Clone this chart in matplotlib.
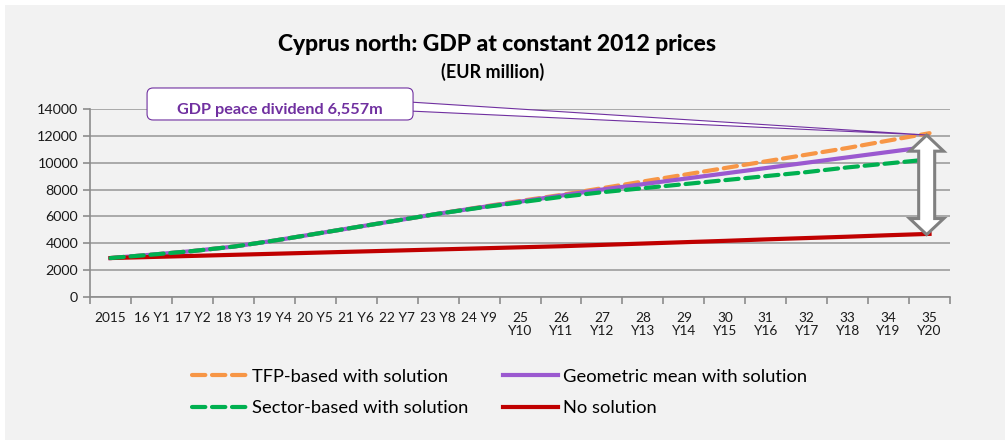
import matplotlib
matplotlib.use('Agg')
from matplotlib import pyplot as plt
from matplotlib.patches import FancyBboxPatch, Polygon, Rectangle
from matplotlib.transforms import IdentityTransform

plt.rcParams['font.family'] = ['Lato', 'DejaVu Sans']

# --- data (EUR million, constant 2012 prices) ---
years = ['2015', '16 Y1', '17 Y2', '18 Y3', '19 Y4', '20 Y5', '21 Y6', '22 Y7', '23 Y8', '24 Y9',
         '25\nY10', '26\nY11', '27\nY12', '28\nY13', '29\nY14', '30\nY15', '31\nY16', '32\nY17',
         '33\nY18', '34\nY19', '35\nY20']
tfp = [2900, 3150, 3420, 3750, 4200, 4700, 5200, 5700, 6200, 6680, 7150,
       7600, 8100, 8600, 9100, 9600, 10100, 10600, 11100, 11650, 12200]
geo = [2900, 3150, 3420, 3750, 4200, 4700, 5200, 5700, 6200, 6660, 7100,
       7550, 8000, 8400, 8800, 9200, 9600, 10000, 10400, 10800, 11200]
sector = [2900, 3150, 3420, 3750, 4200, 4700, 5200, 5700, 6200, 6640, 7050,
          7450, 7800, 8100, 8400, 8700, 9000, 9300, 9650, 9950, 10250]
nosol = [2900, 2980, 3060, 3140, 3220, 3300, 3380, 3460, 3540, 3620, 3700,
         3780, 3880, 3980, 4080, 4180, 4290, 4390, 4490, 4600, 4700]
dividend = 6557

fig = plt.figure(figsize=(10.05, 4.4), dpi=100, facecolor='white')
fig.patches.append(Rectangle((5 / 1005, 0), 1, 1 - 5 / 440, transform=fig.transFigure,
                             facecolor='#f2f2f2', edgecolor='none', zorder=-10))
ax = fig.add_axes([0.0896, 0.325, 0.8557, 0.4273])
ax.set_facecolor('none')

x = list(range(len(years)))
dash = (3.2, 1.6)
l_tfp, = ax.plot(x, tfp, color='#f79646', lw=3, dashes=dash, dash_capstyle='round',
                 label='TFP-based with solution', zorder=3)
l_geo, = ax.plot(x, geo, color='#9b59d0', lw=3, label='Geometric mean with solution', zorder=4)
l_sec, = ax.plot(x, sector, color='#00b050', lw=3, dashes=dash, dash_capstyle='round',
                 label='Sector-based with solution', zorder=5)
l_no, = ax.plot(x, nosol, color='#c00000', lw=3, label='No solution', zorder=4)

ax.set_xlim(-0.5, len(years) - 0.5)
ax.set_ylim(0, 14000)
ax.set_yticks(range(0, 14001, 2000))
ax.grid(axis='y', color='#9d9d9d', lw=1.2)
ax.set_axisbelow(True)
for s in ['top', 'right']:
    ax.spines[s].set_visible(False)
for s in ['left', 'bottom']:
    ax.spines[s].set_color('#8c8c8c')
    ax.spines[s].set_linewidth(1.2)
ax.set_xticks(x)
ax.set_xticklabels(years, fontsize=9.8, color='#1a1a1a', linespacing=1.05)
ax.set_xticks([i - 0.5 for i in range(len(years) + 1)], minor=True)
ax.tick_params(axis='x', which='major', length=0, pad=11)
ax.tick_params(axis='x', which='minor', length=5, color='#8c8c8c', width=1.2)
ax.tick_params(axis='y', length=5, color='#8c8c8c', width=1.2, labelsize=10.3,
               labelcolor='#1a1a1a')

fig.text(0.495, 0.883, 'Cyprus north: GDP at constant 2012 prices', ha='center',
         fontsize=16.5, fontweight='black')
fig.text(0.49, 0.822, '(EUR million)', ha='center', fontsize=13, fontweight='bold')

fig.legend(handles=[l_tfp, l_sec, l_geo, l_no], ncol=2, loc='center',
           bbox_to_anchor=(0.497, 0.108), frameon=False, fontsize=13.2,
           handlelength=3.0, handletextpad=0.27, columnspacing=1.85, labelspacing=0.85)

# callout box with pointer to the end of the TFP line
fig.canvas.draw()
tip = ax.transData.transform((x[-1], tfp[-1] - 150))
bx0, by0 = ax.transAxes.transform((0.0663, 0.9415))
bx1, by1 = ax.transAxes.transform((0.3756, 1.1117))
wedge = Polygon([(bx1 - 4, by1 - 14), tuple(tip), (bx1 - 4, by1 - 23)], closed=True,
                transform=IdentityTransform(), facecolor='white', edgecolor='#7030a0',
                lw=0.8, clip_on=False, zorder=6)
fig.patches.append(wedge)
box = FancyBboxPatch((bx0, by0), bx1 - bx0, by1 - by0, boxstyle='round,pad=0,rounding_size=6',
                     transform=IdentityTransform(), facecolor='white', edgecolor='#7030a0',
                     lw=0.8, zorder=7)
fig.patches.append(box)
fig.text((bx0 + bx1) / 2 / fig.bbox.width, (by0 + by1) / 2 / fig.bbox.height - 0.014,
         'GDP peace dividend {:,}m'.format(dividend), ha='center', va='center',
         fontsize=11.7, fontweight='bold', color='#7030a0', zorder=8)

# double-headed block arrow between scenarios at the final year
top = ax.transData.transform((x[-1] - 0.07, tfp[-1] - 150))
bot = ax.transData.transform((x[-1] - 0.07, nosol[-1] - 50))
cx = top[0]
hw, sw, hl = 17, 8, 16
pts = [(cx, top[1]), (cx + hw, top[1] - hl), (cx + sw, top[1] - hl), (cx + sw, bot[1] + hl),
       (cx + hw, bot[1] + hl), (cx, bot[1]), (cx - hw, bot[1] + hl), (cx - sw, bot[1] + hl),
       (cx - sw, top[1] - hl), (cx - hw, top[1] - hl)]
arrow = Polygon(pts, closed=True, transform=IdentityTransform(), facecolor='white',
                edgecolor='#808080', lw=2.2, joinstyle='miter', zorder=9)
fig.patches.append(arrow)

fig.savefig('out.png', dpi=100, facecolor=fig.get_facecolor())
